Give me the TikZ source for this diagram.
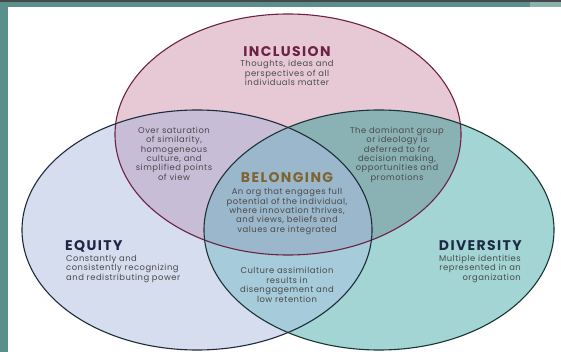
\documentclass[tikz,border=0pt]{standalone}
\usepackage{fontspec}
\setmainfont{Poppins}
\usetikzlibrary{positioning}
\definecolor{frameteal}{HTML}{5A8F8B}
\definecolor{framedark}{HTML}{454848}
\definecolor{inclfill}{HTML}{E7C9D6}
\definecolor{equifill}{HTML}{D6DDEF}
\definecolor{divefill}{HTML}{A2D5D3}
\definecolor{iefill}{HTML}{C7BDD6}
\definecolor{idfill}{HTML}{8AB2B5}
\definecolor{edfill}{HTML}{A6CBDA}
\definecolor{allfill}{HTML}{9BB7CC}
\definecolor{inclline}{HTML}{6E2243}
\definecolor{equiline}{HTML}{1E2B3B}
\definecolor{diveline}{HTML}{1B3535}
\definecolor{equitext}{HTML}{1F2545}
\definecolor{divetext}{HTML}{1D2B45}
\definecolor{bodygray}{HTML}{4A4A4A}
\definecolor{belonggold}{HTML}{7E6432}
\tikzset
{
	heading/.style = {font=\bfseries\fontsize{14}{15}\selectfont\addfontfeature{LetterSpace=10}, inner sep=0pt},
	blurb/.style   = {font=\fontsize{8.4}{9.3}\selectfont\addfontfeature{LetterSpace=6}, text=bodygray, align=center, inner sep=0pt},
	ring/.style    = {line width=1.1pt}
}
\newcommand\inclring{(288,134.5) ellipse [x radius=173pt, y radius=120.5pt]}
\newcommand\equiring{(197,230) ellipse [x radius=175pt, y radius=120pt]}
\newcommand\divering{(379,230) ellipse [x radius=175pt, y radius=120pt]}

\begin{document}
\begin{tikzpicture}[x=1pt, y=-1pt]
\useasboundingbox (0,0) rectangle (561,352);
% frame
\fill[white] (0,0) rectangle (561,352);
\fill[frameteal] (0,0) rectangle (7.5,352);
\fill[frameteal] (0,0) rectangle (561,7);
\fill[framedark] (0,0) rectangle (561,2.2);
\fill[frameteal!70!white] (530,2.2) rectangle (561,7);
\begin{scope}
\clip (7.5,7) rectangle (561,352);
% plain circles
\fill[equifill] \equiring;
\fill[divefill] \divering;
\fill[inclfill] \inclring;
% overlaps
\begin{scope}
	\clip \inclring;
	\fill[iefill] \equiring;
	\fill[idfill] \divering;
\end{scope}
\begin{scope}
	\clip \equiring;
	\fill[edfill] \divering;
\end{scope}
\begin{scope}
	\clip \inclring;
	\clip \equiring;
	\fill[allfill] \divering;
\end{scope}
% outlines
\draw[ring, inclline] \inclring;
\draw[ring, equiline] \equiring;
\draw[ring, diveline] \divering;
\end{scope}
% texts
\node[heading, text=inclline] (inclhead) at (287,51.5) {INCLUSION};
\node[blurb, below=3.6pt of inclhead] (incltext) {Thoughts, ideas and\\perspectives of all\\individuals matter};
\node[blurb, anchor=north] (ietext) at (174,127) {Over saturation\\of similarity,\\homogeneous\\culture, and\\simplified points\\of view};
\node[blurb, anchor=north] (idtext) at (397,127) {The dominant group\\or ideology is\\deferred to for\\decision making,\\opportunities and\\promotions};
\node[heading, text=belonggold] (belonghead) at (287,178) {BELONGING};
\node[blurb, below=5pt of belonghead] (belongtext) {An org that engages full\\potential of the individual,\\where innovation thrives,\\and views, beliefs and\\values are integrated};
\node[heading, text=equitext, anchor=west] (equihead) at (65,246) {EQUITY};
\node[blurb, align=left, anchor=north west] (equitext) at (66,255) {Constantly and\\consistently recognizing\\and redistributing power};
\node[heading, text=divetext, anchor=east] (divehead) at (522,246) {DIVERSITY};
\node[blurb, align=right, anchor=north east] (divetext) at (521,255) {Multiple identities\\represented in an\\organization};
\node[blurb, anchor=north, font=\fontsize{8.4}{9.7}\selectfont\addfontfeature{LetterSpace=6}] (edtext) at (287,267) {Culture assimilation\\results in\\disengagement and\\low retention};
\end{tikzpicture}
\end{document}
